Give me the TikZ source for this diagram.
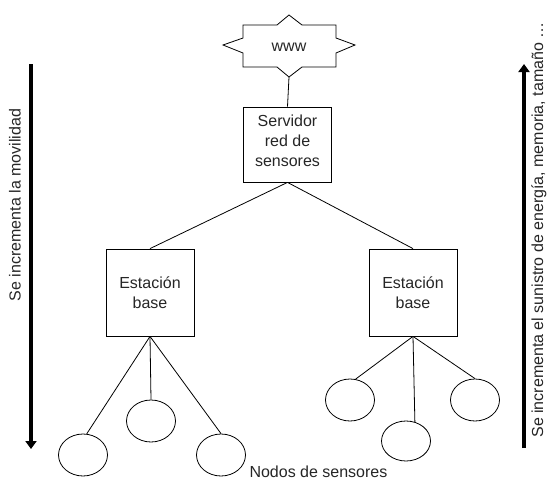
\documentclass[tikz,border=0pt]{standalone}
\usepackage{fontspec}
\setmainfont{Liberation Sans}
\usetikzlibrary{arrows.meta, positioning, shapes.geometric}

\begin{document}
\begin{tikzpicture}[
  x=1pt, y=-1pt,
  every node/.style={font=\fontsize{16}{20}\selectfont, text=black!85},
  stbox/.style={rectangle, draw, line width=0.8pt, minimum width=88pt,
               minimum height=87pt, inner sep=0pt, align=center},
  sensor/.style={ellipse, draw, line width=0.8pt, minimum width=49pt,
               minimum height=42pt, inner sep=0pt},
  link/.style={line width=0.8pt},
  bigarr/.style={line width=4.5pt, -{Triangle[length=8pt, width=11pt]}},
  sidetxt/.style={rotate=90, anchor=center}
]
  \useasboundingbox (0,0) rectangle (549,479);
  \clip (0,0) rectangle (549,479);

  % internet
  \node (www) at (289,47) {www};
  \draw[link, shift={(www.center)}]
    (-66,-2) -- (-46,-9) -- (-46,-22) -- (-12,-22) -- (0,-32) -- (13,-22)
    -- (47,-22) -- (47,-9) -- (66,-2) -- (47,6) -- (47,20) -- (13,20)
    -- (0,30) -- (-12,20) -- (-46,20) -- (-46,6) -- cycle;
  \coordinate (wwwtip) at (289,77);

  % servidor y estaciones
  \node[stbox, minimum height=75pt, text depth=8pt] (srv) at (287.5,144.5)
    {Servidor\\red de\\sensores};
  \node[stbox] (lbs) at (150,292.5) {Estación\\base};
  \node[stbox] (rbs) at (413,292.5) {Estación\\base};

  % nodos de sensores
  \node[sensor] (lc1) at (83,455) {};
  \node[sensor] (lc2) at (151,421) {};
  \node[sensor] (lc3) at (221,455) {};
  \node[sensor] (rc1) at (350,400) {};
  \node[sensor, minimum height=40pt] (rc2) at (406,441) {};
  \node[sensor] (rc3) at (475,400) {};
  \node[anchor=base west] (nodos) at (246,477) {Nodos de sensores};

  \draw[link] (wwwtip) -- (srv.north);
  \foreach \b in {lbs,rbs}
    \draw[link] (srv.south) -- (\b.north);
  \foreach \c in {lc1.80,lc2.north,lc3.north}
    \draw[link] (lbs.south) -- (\c);
  \foreach \c in {rc1.75,rc2.65,rc3.north}
    \draw[link] (rbs.south) -- (\c);

  % flechas laterales
  \coordinate (ltop) at (31,64);
  \coordinate (lbot) at (31,449);
  \coordinate (rbot) at (524,448);
  \coordinate (rtop) at (524,64);
  \draw[bigarr] (ltop) -- (lbot);
  \draw[bigarr] (rbot) -- (rtop);
  \node[sidetxt] (movil) at (15,205) {Se incrementa la movilidad};
  \node[sidetxt] (recursos) at (539,230)
    {Se incrementa el sunistro de energía, memoria, tamaño \ldots};
\end{tikzpicture}
\end{document}
